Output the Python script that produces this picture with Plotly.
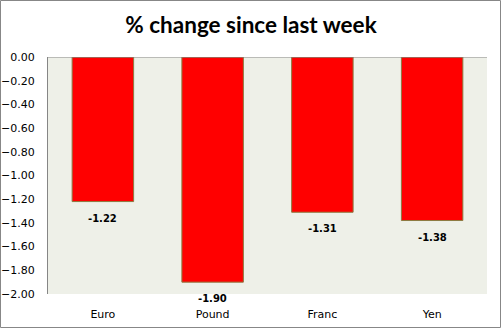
import plotly.graph_objects as go

# Weekly currency moves
currencies = ["Euro", "Pound", "Franc", "Yen"]
pct_change = [-1.22, -1.90, -1.31, -1.38]
tick_values = [0.0, -0.2, -0.4, -0.6, -0.8, -1.0, -1.2, -1.4, -1.6, -1.8, -2.0]

W, H = 502, 329
ml, mr, mt, mb = 48, 15, 57, 35
pw, ph = W - ml - mr, H - mt - mb

fig = go.Figure()
fig.add_trace(go.Bar(
    x=currencies,
    y=pct_change,
    marker=dict(color="#FF0000", line=dict(color="#8C7A40", width=1)),
    hoverinfo="x+y",
))

# value labels under each bar end
for c, v in zip(currencies, pct_change):
    fig.add_annotation(
        x=c, y=v, text=f"<b>{v:.2f}</b>", showarrow=False,
        yanchor="top", yshift=-9,
        font=dict(family="DejaVu Sans", size=10, color="#000000"),
    )


def px_x(p):
    return (p - ml) / pw


def px_y(p):
    return ((H - mb) - p) / ph


# outer chart border
fig.add_shape(
    type="rect", xref="paper", yref="paper",
    x0=px_x(0.5), x1=px_x(500.5), y0=px_y(327.5), y1=px_y(0.5),
    line=dict(color="#878787", width=1), layer="above",
)

fig.update_layout(
    width=W, height=H,
    margin=dict(l=ml, r=mr, t=mt, b=mb, autoexpand=False),
    paper_bgcolor="#FFFFFF",
    plot_bgcolor="#EEF0E8",
    bargap=0.44,
    showlegend=False,
    title=dict(
        text="<b>% change since last week</b>",
        x=0.5, xref="container", xanchor="center",
        y=1 - 25 / H, yanchor="middle",
        font=dict(family="Lato", size=22.5, color="#000000"),
    ),
    xaxis=dict(
        automargin=False,
        showline=False, showgrid=False, ticks="",
        tickfont=dict(family="DejaVu Sans", size=11, color="#000000"),
        ticklabelstandoff=12,
    ),
    yaxis=dict(
        automargin=False,
        range=[-2.0, 0.0],
        tickvals=tick_values,
        tickformat=".2f",
        showgrid=False, zeroline=False,
        showline=True, linecolor="#868686", linewidth=1,
        ticks="",
        ticklabelstandoff=10,
        tickfont=dict(family="DejaVu Sans", size=11, color="#000000"),
    ),
)

# zero line along the top of the plot area
fig.add_shape(
    type="line", xref="paper", yref="y",
    x0=0, x1=1, y0=0, y1=0,
    line=dict(color="#868686", width=1), layer="above",
)

fig.write_html("out.html")
